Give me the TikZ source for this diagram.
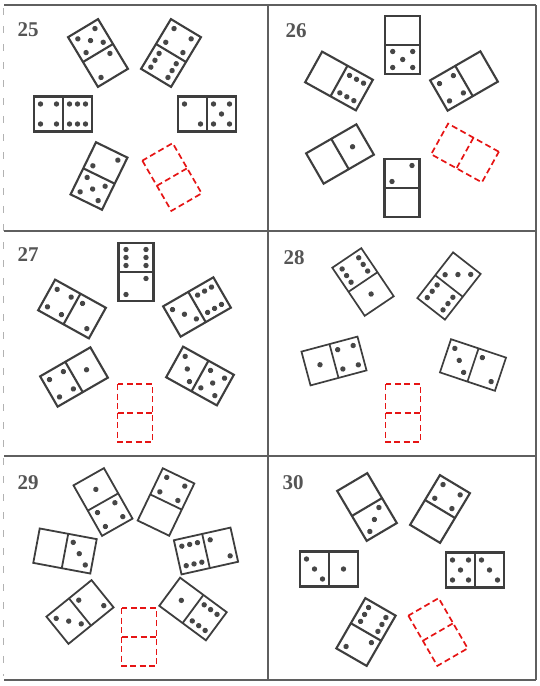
\documentclass[tikz,border=0pt]{standalone}
\usepackage{fontspec}
\setmainfont{Liberation Serif}
\definecolor{ink}{RGB}{62,62,62}
\definecolor{pipink}{RGB}{70,70,70}
\definecolor{frameink}{RGB}{95,95,95}
\definecolor{labink}{RGB}{85,85,85}
\definecolor{redd}{RGB}{230,20,20}
\tikzset{
  domline/.style={draw=ink,line width=2.1pt},
  pipc/.style={fill=pipink},
  reddash/.style={draw=redd,line width=1.7pt,dash pattern=on 6pt off 3.5pt},
  frameline/.style={draw=frameink,line width=1.2pt},
  lbl/.style={text=labink,font=\fontsize{21}{24}\selectfont\bfseries,inner sep=0pt}
}
\newcommand\dmpip[2]{\fill[pipc] (#1,#2) circle[radius=2.7pt];}
\newcommand\pZ{}
\newcommand\pI{\dmpip{0}{0}}
\newcommand\pIIs{\dmpip{10}{-8}\dmpip{-10}{8}}
\newcommand\pIIIs{\pIIs\dmpip{0}{0}}
\newcommand\pIV{\dmpip{10}{-8}\dmpip{-10}{8}\dmpip{-10}{-8}\dmpip{10}{8}}
\newcommand\pV{\pIV\dmpip{0}{0}}
\newcommand\pVI{\pIV\dmpip{10}{0}\dmpip{-10}{0}}
\newcommand\domino[5]{%
  \begin{scope}[shift={(#1,#2)},rotate=#3]
    \draw[domline] (-17.5,-29) rectangle (17.5,29);
    \draw[domline] (-17.5,0) -- (17.5,0);
    \begin{scope}[shift={(0,-14.5)}]#4\end{scope}
    \begin{scope}[shift={(0,14.5)}]#5\end{scope}
  \end{scope}}
\newcommand\redblank[3]{%
  \begin{scope}[shift={(#1,#2)},rotate=#3]
    \draw[reddash] (-17.5,-29) rectangle (17.5,29);
    \draw[reddash] (-17.5,0) -- (17.5,0);
  \end{scope}}
\begin{document}
\begin{tikzpicture}[x=1pt,y=-1pt]
\useasboundingbox[fill=white] (0,0) rectangle (540,686);
% frame
\draw[draw=gray!60,line width=1.6pt,dash pattern=on 7pt off 11pt] (3.5,8) -- (3.5,676);
\draw[frameline] (4,5) -- (536,5);
\draw[frameline] (4,231) -- (536,231);
\draw[frameline] (4,456) -- (536,456);
\draw[frameline] (4,680) -- (536,680);
\draw[frameline] (268,5) -- (268,680);
\draw[frameline] (536,5) -- (536,680);
% labels
\node[lbl] (l25) at (28,29.5) {25};
\node[lbl] (l26) at (296,31) {26};
\node[lbl] (l27) at (28,255) {27};
\node[lbl] (l28) at (294,258) {28};
\node[lbl] (l29) at (28,483) {29};
\node[lbl] (l30) at (293,483) {30};
% panel 25
\domino{98}{53}{31}{\pV}{\pIIs}
\domino{171}{53}{-31}{\pIV}{\pVI}
\domino{63}{114}{90}{\pIV}{\pVI}
\domino{207}{114}{90}{\pIIs}{\pV}
\domino{99}{176}{-26}{\pIIs}{\pV}
\redblank{172}{177}{30}
% panel 26
\domino{402.7}{45}{0}{\pZ}{\pV}
\domino{339}{81}{61}{\pZ}{\pVI}
\domino{464}{81}{-60}{\pZ}{\pIV}
\domino{340}{154}{120}{\pZ}{\pI}
\domino{402}{188}{0}{\pIIs}{\pZ}
\redblank{465}{153}{-119}
% panel 27
\domino{136}{272}{0}{\pVI}{\pIIs}
\domino{72}{309}{61}{\pIV}{\pIIs}
\domino{197}{307}{-60}{\pVI}{\pIIIs}
\domino{74}{377}{120}{\pIV}{\pI}
\domino{200}{376}{-119}{\pV}{\pIIIs}
\redblank{135}{413}{0}
% panel 28
\begin{scope}[domline/.append style={line width=1.7pt}]
\domino{363}{282}{34}{\pVI}{\pI}
\domino{449}{286}{-38}{\pIIIs}{\pVI}
\domino{334}{361}{105}{\pI}{\pIV}
\domino{473}{365}{-108.5}{\pIIs}{\pIIIs}
\end{scope}
\redblank{403}{413}{0}
% panel 29
\begin{scope}[domline/.append style={line width=1.8pt}]
\domino{103}{502}{29.5}{\pI}{\pIV}
\domino{166}{502}{-25.7}{\pIV}{\pZ}
\domino{65}{551}{79.4}{\pZ}{\pIIIs}
\domino{206}{551}{-77.4}{\pIIs}{\pVI}
\domino{80}{612}{129}{\pIIIs}{\pIIs}
\domino{193}{609}{-126.5}{\pVI}{\pI}
\end{scope}
\redblank{139}{637}{0}
% panel 30
\domino{367}{507}{30.6}{\pZ}{\pIIIs}
\domino{440}{509}{-31}{\pIV}{\pZ}
\domino{329}{569}{90}{\pIIIs}{\pI}
\domino{475}{570}{90}{\pV}{\pIIIs}
\domino{366}{632}{-30}{\pVI}{\pIIs}
\redblank{438}{632}{30}
\end{tikzpicture}
\end{document}
